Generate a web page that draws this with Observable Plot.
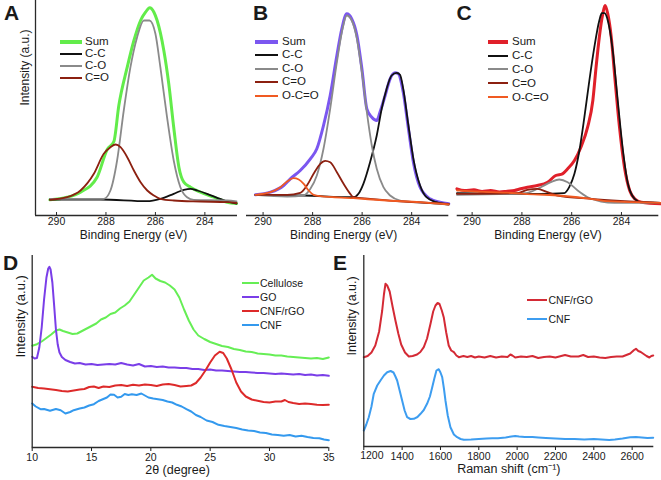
<!DOCTYPE html>
<html>
<head>
<meta charset="utf-8">
<script src="https://cdn.jsdelivr.net/npm/d3@7"></script>
<script src="https://cdn.jsdelivr.net/npm/@observablehq/plot@0.6"></script>
<style>
  body { margin: 0; background: #fff; }
  #fig { position: relative; width: 661px; height: 480px; background: #fff; overflow: hidden; font-family: 'Liberation Sans', Arial, sans-serif; color: #1a1a1a; }
  .abs { position: absolute; }
  .letter { position: absolute; font-weight: bold; font-size: 21px; line-height: 21px; }
  .leg-row { display: flex; align-items: center; white-space: nowrap; }
</style>
</head>
<body>
<div id="fig"></div>
<script>
// ---------------- DATA ----------------
// XPS C1s, panel A (cellulose): [binding energy eV, intensity a.u.]
const aSum = [[290.27,15.7],[289.57,18.3],[289.03,23.3],[288.36,38.3],[287.95,66],[287.68,74],[287.48,110],[287.14,148.3],[286.87,175],[286.6,195],[286.4,203.3],[286.23,207.7],[286.06,203.3],[285.93,195],[285.66,165],[285.46,131.7],[285.26,88.3],[285.05,48.3],[284.85,33.3],[284.58,28.3],[284.18,23.3],[283.64,18.3],[283.1,13.3],[282.72,12]];
const aCC = [[290.27,16],[288.22,16],[286.33,14.3],[285.8,16.7],[285.26,21.7],[284.85,25.7],[284.58,26.7],[284.31,25],[283.91,21.7],[283.5,17.7],[283.1,14],[282.72,12]];
const aCO = [[290.24,16.7],[288.09,16.7],[287.82,25],[287.55,55],[287.28,105],[287.01,148.3],[286.74,178.3],[286.47,195],[286.24,195],[286.0,181.7],[285.8,148.3],[285.53,98.3],[285.26,55],[284.99,28.3],[284.72,18.3],[284.45,15.7],[283.1,15],[282.72,14]];
const aC_O = [[290.27,15.7],[289.57,18.3],[289.03,25],[288.49,41.7],[288.09,61.7],[287.82,68.3],[287.61,71],[287.41,68.3],[287.14,58.3],[286.87,45],[286.6,33.3],[286.33,25],[286.06,20],[285.8,16.7],[285.26,15],[284.18,14],[283.1,13.3],[282.72,12.5]];

// panel B (GO)
const bSum = [[290.31,20.7],[289.7,23.3],[289.17,30],[288.9,36.7],[288.5,45],[288.09,56.7],[287.83,66.7],[287.56,90],[287.29,120],[287.02,160],[286.82,186.7],[286.62,201.7],[286.42,196.7],[286.21,180],[286.01,146.7],[285.81,106.7],[285.61,98.3],[285.41,95],[285.28,103.3],[285.07,120],[284.87,136.7],[284.67,142.7],[284.54,141.7],[284.34,123.3],[284.13,86.7],[283.93,53.3],[283.66,28.3],[283.26,16.7],[282.86,13.3],[282.5,11.7]];
const bCC = [[290.31,20.7],[288.36,20],[286.35,18.3],[286.15,21.7],[285.95,31.7],[285.68,53.3],[285.41,80],[285.21,106.7],[285.01,126.7],[284.81,140],[284.6,142.7],[284.47,140.7],[284.34,126.7],[284.13,90],[283.93,56.7],[283.66,30],[283.4,18.3],[283.0,13.3],[282.5,11]];
const bCO = [[290.31,20.7],[289.03,19],[288.36,20],[288.09,26.7],[287.83,40],[287.56,66.7],[287.29,106.7],[287.02,153.3],[286.82,183.3],[286.62,200],[286.42,195],[286.21,176.7],[286.01,143.3],[285.81,103.3],[285.61,70],[285.41,46.7],[285.14,28.3],[284.87,20],[284.47,15],[283.93,13.3],[283.26,12.3],[282.5,11]];
const bC_O = [[290.31,20.7],[289.03,20.7],[288.5,22.7],[288.23,30],[287.96,41.7],[287.69,51.7],[287.49,54.7],[287.29,53.3],[287.02,43.3],[286.75,31.7],[286.48,21.7],[286.35,18.3],[285.68,16.7],[284.34,14],[282.5,11.7]];
const bOCO = [[290.31,20.7],[289.7,23.3],[289.3,28.3],[289.03,34],[288.77,37.3],[288.56,36],[288.36,31.7],[288.16,25],[287.96,20.7],[287.69,19.3],[286.35,17.3],[285.01,15],[283.66,13.3],[282.5,11]];

// panel C (CNF/rGO)
const cSum = [[290.61,26.7],[290.3,25],[289.93,25.7],[289.6,24],[289.26,25],[288.9,23.5],[288.59,24.3],[288.3,25],[288.05,26.7],[287.78,28.3],[287.38,30],[286.97,33.3],[286.64,40],[286.37,41.7],[286.16,46.7],[285.89,55],[285.63,68.3],[285.36,88.3],[285.15,115],[285.02,148.3],[284.89,178.3],[284.75,201.7],[284.66,210],[284.55,201.7],[284.41,178.3],[284.28,141.7],[284.08,88.3],[283.88,48.3],[283.67,25],[283.47,16.7],[283.2,13.3],[282.4,11.7]];
const cCC = [[290.61,22.3],[287.24,21.7],[286.3,22.3],[286.1,28.3],[285.89,41.7],[285.69,65],[285.49,98.3],[285.29,135],[285.09,168.3],[284.89,195],[284.79,202.3],[284.68,202.3],[284.55,195],[284.35,165],[284.15,115],[283.94,65],[283.74,31.7],[283.47,16.7],[283.2,13.3],[282.4,12.7]];
const cCO = [[290.61,20.7],[287.91,22.3],[287.51,25],[287.24,28.3],[286.84,33.3],[286.5,36],[286.16,33.3],[285.76,25],[285.36,18.3],[284.82,14],[284.28,12.7],[282.4,12.7]];
const cC_O = [[290.61,21.7],[288.18,22.3],[287.78,25.7],[287.38,26.7],[286.97,23.3],[286.57,20],[285.22,16.7],[282.4,12.7]];
const cOCO = [[290.61,25],[289.9,24],[289.26,23.3],[288.6,22.8],[287.91,21.7],[286.57,20],[285.22,16.7],[284.55,14.3],[282.4,12.7]];

const xpsNames = ["Sum", "C-C", "C-O", "C=O", "O-C=O"];
const xpsColors = ["#000", "#111111", "#8a8a8a", "#8c2010", "#f05a22"];
const sumColors = { A: "#62ec4a", B: "#7b57f0", C: "#e0202a" };
const xpsTicks = [290, 288, 286, 284];

// panel D: XRD, [2theta deg, intensity a.u.]
const dCellulose = [[10,101.7],[10.4,103.3],[10.8,106],[11.2,109.5],[11.6,113],[12,117],[12.3,118],[12.6,116.5],[13,115],[13.4,113.5],[13.8,114],[14.2,116.5],[14.6,119],[15,121.5],[15.4,124],[15.8,128],[16.2,130],[16.6,133.5],[17,135],[17.4,139],[17.8,142],[18.2,146],[18.6,153],[19,160],[19.4,167],[19.8,170],[20.1,172.7],[20.4,169],[20.8,166.5],[21.2,165],[21.6,162],[22,158],[22.4,150],[22.8,138],[23.2,127],[23.6,118],[24,112],[24.5,108.5],[25,105.5],[25.5,103.5],[26,101.5],[26.5,100.5],[27,98.5],[27.5,97.5],[28,96],[28.5,95.5],[29,94],[29.5,93.5],[30,93],[30.5,92],[31,92],[31.5,91],[32,90.5],[32.5,90],[33,89.5],[33.5,89],[34,89.5],[34.5,88.5],[35,90]];
const dGO = [[10,90.7],[10.2,89],[10.4,89.5],[10.6,100],[10.8,120],[11,148],[11.2,170],[11.35,179],[11.45,180.7],[11.55,178],[11.7,165],[11.85,142],[12,118],[12.15,103],[12.3,95],[12.5,90.5],[12.8,87.5],[13.2,85.5],[13.6,84],[14,84.5],[14.5,83],[15,83.5],[15.5,82.5],[16,83],[16.5,83.5],[17,83],[17.5,84.5],[18,83],[18.5,82],[19,83.5],[19.5,81],[20,81.5],[20.5,80.5],[21,81],[21.5,80],[22,80],[22.5,79.5],[23,79.5],[23.5,78.5],[24,78.5],[24.5,77.5],[25,78],[25.5,77],[26,77],[26.5,76.5],[27,76],[27.5,75.5],[28,75.5],[28.5,75],[29,74.5],[29.5,74.5],[30,74],[30.5,73.5],[31,74],[31.5,73.5],[32,73],[32.5,73.5],[33,72.5],[33.5,73],[34,72],[34.5,72.5],[35,71.7]];
const dCNFrGO = [[10,60.7],[10.5,59.5],[11,59],[11.5,58.3],[12,57.5],[12.5,56.5],[13,56],[13.5,57],[14,58],[14.4,58.5],[14.8,60.5],[15.2,61],[15.6,59.5],[16,61],[16.5,60.5],[17,62],[17.5,62.5],[18,61.5],[18.5,62.7],[19,62],[19.5,63],[20,62.5],[20.5,61.5],[21,63],[21.5,63.5],[22,62.5],[22.5,61],[23,61.5],[23.4,62],[23.8,64.5],[24.2,70],[24.6,77],[25,85],[25.4,92],[25.8,95.7],[26.1,94.5],[26.4,89],[26.8,78],[27.2,65],[27.6,56],[28,51],[28.5,48],[29,46.7],[29.5,45.5],[30,45],[30.5,46],[31,46],[31.3,47.5],[31.6,45.5],[32,44.5],[32.5,43.5],[33,44],[33.5,43.5],[34,42.7],[34.5,42.5],[35,42.7]];
const dCNF = [[10,44],[10.3,41],[10.7,38.3],[11,38.5],[11.5,36.7],[12,38.5],[12.4,37.3],[12.8,34],[13.2,35.5],[13.5,37.3],[14,39],[14.4,40],[14.8,42],[15.2,43.3],[15.6,46.5],[16,48.5],[16.3,50],[16.6,53],[16.9,52.7],[17.2,50],[17.5,50.7],[17.8,53.5],[18.1,52.5],[18.4,53.3],[18.8,52.5],[19.2,54],[19.5,52],[19.8,50],[20.2,49],[20.6,48.3],[21,47.5],[21.4,46],[21.8,45],[22.2,42.7],[22.6,41],[23,38.3],[23.4,36],[23.8,32.5],[24.2,30.5],[24.7,27],[25.2,25.5],[25.7,22.7],[26.2,21.5],[26.7,20.5],[27.2,19.5],[27.7,18],[28.2,17],[28.7,16.5],[29.2,15],[29.7,14.5],[30.2,13],[30.7,12.5],[31.2,11.7],[31.7,12.5],[32.2,11],[32.7,11.7],[33.2,10.5],[33.7,9.5],[34.2,9.3],[34.6,8],[35,7.3]];
const dNames = ["Cellulose", "GO", "CNF/rGO", "CNF"];
const dColors = ["#66ee55", "#7a3ee8", "#dd2a2a", "#3399ee"];
const dTicks = [10, 15, 20, 25, 30, 35];

// panel E: Raman, [shift cm-1, intensity a.u.]
const eCNFrGO = [[1200,89.3],[1220,90.5],[1240,94],[1260,101],[1280,115],[1296,136],[1305,152],[1313,162.7],[1322,161],[1335,155],[1350,140],[1365,126],[1380,113],[1395,102],[1415,94],[1435,90],[1455,90.5],[1478,92],[1495,94.5],[1513,99.3],[1530,108],[1548,122.7],[1562,135],[1574,141],[1585,143.5],[1595,142.5],[1607,136],[1617,129.3],[1630,114],[1643,101],[1656,96],[1670,94.3],[1683,91],[1696,89.3],[1720,90.5],[1740,89.5],[1760,90.5],[1780,89],[1800,90],[1830,89],[1860,90.5],[1890,89],[1920,90],[1950,89.5],[1965,92],[1975,91],[1990,89],[2020,90],[2050,89.5],[2080,90.5],[2110,88.5],[2140,89.5],[2170,90],[2200,89],[2230,90.5],[2250,91.5],[2280,90],[2320,90],[2345,91.5],[2370,89.5],[2400,90],[2430,89],[2460,88.5],[2490,89.5],[2520,90],[2550,90],[2570,91.5],[2590,93],[2610,96.5],[2620,97.7],[2632,95.5],[2645,94.5],[2660,92.5],[2675,90.5],[2690,89],[2700,90.5],[2710,91]];
const eCNF = [[1200,16],[1213,22],[1226,29.3],[1240,40],[1252,52.7],[1270,61],[1287,66],[1305,71],[1322,74.3],[1340,75.5],[1355,74],[1365,70],[1374,66],[1387,56],[1400,46],[1413,36],[1426,29.3],[1443,27.5],[1461,27.7],[1480,29.5],[1496,32.7],[1513,36.5],[1530,42.7],[1545,50],[1557,59.3],[1568,68],[1579,76],[1591,77.3],[1600,74],[1609,69.3],[1618,58],[1626,46],[1638,31],[1652,19.3],[1670,12],[1687,9.3],[1705,7.5],[1722,6.7],[1760,7],[1800,7.5],[1840,8],[1870,8.3],[1900,8.3],[1940,9],[1970,10],[1990,10.5],[2010,10],[2040,9.5],[2080,9.5],[2110,9],[2150,8.5],[2200,8],[2250,7.5],[2300,7.5],[2350,7],[2400,7.5],[2440,7],[2480,6.5],[2510,7],[2550,8],[2590,9.3],[2620,9.5],[2650,9],[2680,8.5],[2710,8.7]];
const eNames = ["CNF/rGO", "CNF"];
const eColors = ["#d42a35", "#3d9df0"];
const eTicks = [1200, 1400, 1600, 1800, 2000, 2200, 2400, 2600];

// ---------------- DRAWING ----------------
const FONT = "'Liberation Sans', Arial, sans-serif";
const AXIS = "#2a2a2a";
const fig = document.getElementById("fig");

function place(el, left, top) {
  el.style.position = "absolute";
  el.style.left = left + "px";
  el.style.top = top + "px";
  el.style.maxWidth = "none";
  fig.appendChild(el);
}

function baseStyle(fs) {
  return { fontFamily: FONT, fontSize: fs, color: "#1a1a1a", background: "transparent", overflow: "visible" };
}

function xpsPanel(series, opts) {
  const marks = [];
  series.forEach(s => {
    marks.push(Plot.line(s.data, { x: d => d[0], y: d => d[1], stroke: s.color, strokeWidth: s.width, curve: "monotone-x" }));
  });
  marks.push(Plot.ruleY([0], { stroke: AXIS, strokeWidth: 1.3 }));
  // inward tick marks
  marks.push(Plot.ruleX(xpsTicks, { x: d => d, y1: 0, y2: 3, stroke: AXIS, strokeWidth: 1 }));
  if (opts.yLine) {
    marks.push(Plot.ruleX([opts.domain[0]], { stroke: AXIS, strokeWidth: 1.3 }));
    marks.push(Plot.text(["Intensity (a.u.)"], { frameAnchor: "left", rotate: -90, dx: -10, dy: -2.5, fontSize: 12, fill: "#1a1a1a" }));
  }
  marks.push(Plot.text(["Binding Energy (eV)"], { frameAnchor: "bottom", dy: 23, dx: opts.titleDx, fontSize: 12, fill: "#1a1a1a" }));
  return Plot.plot({
    width: opts.width, height: 250,
    marginTop: 0, marginBottom: 35, marginLeft: opts.ml, marginRight: opts.mr,
    x: { domain: opts.domain, ticks: xpsTicks, tickSize: 0, tickPadding: 2, label: null, tickFormat: d => String(d) },
    y: { domain: [0, 215], axis: null },
    style: baseStyle("10.5px"),
    marks
  });
}

function seriesList(sumKey, sumData, comps) {
  const list = [{ name: "Sum", data: sumData, color: sumColors[sumKey], width: 3 }];
  comps.forEach((d, i) => list.push({ name: xpsNames[i + 1], data: d, color: xpsColors[i + 1], width: 1.8 }));
  return list;
}

const sA = seriesList("A", aSum, [aCC, aCO, aC_O]);
const sB = seriesList("B", bSum, [bCC, bCO, bC_O, bOCO]);
const sC = seriesList("C", cSum, [cCC, cCO, cC_O, cOCO]);

place(xpsPanel(sA, { width: 240, ml: 35, mr: 3, domain: [290.85, 282.68], yLine: true, titleDx: -3 }), 0, 0);
place(xpsPanel(sB, { width: 215, ml: 6, mr: 6.7, domain: [290.67, 282.5], yLine: false, titleDx: -4 }), 240, 0);
place(xpsPanel(sC, { width: 210, ml: 5.7, mr: 2.7, domain: [290.6, 282.5], yLine: false, titleDx: -10 }), 451, 0);

// Panel D
const dSeries = [dCellulose, dGO, dCNFrGO, dCNF];
const plotD = Plot.plot({
  width: 340, height: 230,
  marginTop: 5, marginBottom: 33, marginLeft: 31.7, marginRight: 11.7,
  x: { domain: [10, 35], ticks: dTicks, tickSize: 4, tickPadding: 2.5, label: null },
  y: { domain: [0, 192], axis: null },
  style: baseStyle("10.5px"),
  marks: [
    ...dSeries.map((data, i) => Plot.line(data, { x: d => d[0], y: d => d[1], stroke: dColors[i], strokeWidth: 2 })),
    Plot.ruleY([0], { stroke: AXIS, strokeWidth: 1.3 }),
    Plot.ruleX([10], { stroke: AXIS, strokeWidth: 1.3 }),
    Plot.text(["2θ (degree)"], { frameAnchor: "bottom", dy: 26, dx: -3, fontSize: 12.5, fill: "#1a1a1a" }),
    Plot.text(["Intensity (a.u.)"], { frameAnchor: "left", rotate: -90, dx: -11, dy: 6, fontSize: 13, fill: "#1a1a1a" })
  ]
});
place(plotD, 0, 250);

// Panel E
const eSeries = [eCNFrGO, eCNF];
const plotE = Plot.plot({
  width: 321, height: 230,
  marginTop: 5, marginBottom: 34, marginLeft: 23.3, marginRight: 7.7,
  x: { domain: [1200, 2713], ticks: eTicks, tickSize: 4, tickPadding: 2.5, label: null, tickFormat: d => d === 1200 ? "" : String(d) },
  y: { domain: [0, 191], axis: null },
  style: baseStyle("10.5px"),
  marks: [
    ...eSeries.map((data, i) => Plot.line(data, { x: d => d[0], y: d => d[1], stroke: eColors[i], strokeWidth: 2 })),
    Plot.ruleY([0], { stroke: AXIS, strokeWidth: 1.3 }),
    Plot.ruleX([1200], { stroke: AXIS, strokeWidth: 1.3 }),
    Plot.text([eTicks[0]], { x: d => d, frameAnchor: "bottom", dy: 12.5, dx: 8, text: d => String(d), fontSize: 10.5, fill: "#1a1a1a" }),
    Plot.text(["Raman shift (cm⁻¹)"], { frameAnchor: "bottom", dy: 26, fontSize: 12.5, fill: "#1a1a1a" }),
    Plot.text(["Intensity (a.u.)"], { frameAnchor: "left", rotate: -90, dx: -11.5, dy: 4.5, fontSize: 12.5, fill: "#1a1a1a" })
  ]
});
place(plotE, 340, 250);

// Panel letters
[["A", 4, 2], ["B", 253, 2], ["C", 456.5, 2], ["D", 3, 252], ["E", 333, 252]].forEach(([t, x, y]) => {
  const s = document.createElement("div");
  s.className = "letter";
  s.textContent = t;
  s.style.left = x + "px"; s.style.top = y + "px";
  fig.appendChild(s);
});

// Legends (HTML)
function legend(items, o) {
  const box = document.createElement("div");
  box.className = "abs";
  box.style.left = o.left + "px";
  box.style.top = (o.firstCenter - o.rowH / 2) + "px";
  box.style.fontSize = o.fs + "px";
  items.forEach(it => {
    const row = document.createElement("div");
    row.className = "leg-row";
    row.style.height = o.rowH + "px";
    const ln = document.createElement("span");
    ln.style.display = "inline-block";
    ln.style.width = o.lineW + "px";
    ln.style.height = "0";
    ln.style.borderTop = it.w + "px solid " + it.color;
    ln.style.marginRight = o.gap + "px";
    const tx = document.createElement("span");
    tx.textContent = it.name;
    tx.style.lineHeight = "1";
    row.appendChild(ln); row.appendChild(tx);
    box.appendChild(row);
  });
  fig.appendChild(box);
}
const legItems = (list) => list.map(s => ({ name: s.name, color: s.color, w: s.width === 3 ? 4 : 2 }));
legend(legItems(sA), { left: 60, firstCenter: 41.7, rowH: 12, lineW: 22, gap: 3, fs: 11.5 });
legend(legItems(sB), { left: 255, firstCenter: 41.7, rowH: 13.5, lineW: 23, gap: 4, fs: 11.5 });
legend(legItems(sC), { left: 488, firstCenter: 41.7, rowH: 13.9, lineW: 20, gap: 4, fs: 11.5 });
legend(dNames.map((n, i) => ({ name: n, color: dColors[i], w: 2.5 })), { left: 242, firstCenter: 283.3, rowH: 14, lineW: 16.5, gap: 1.5, fs: 10.5 });
legend(eNames.map((n, i) => ({ name: n, color: eColors[i], w: 2.5 })), { left: 527, firstCenter: 300, rowH: 19.3, lineW: 20, gap: 1.5, fs: 10.5 });
</script>
</body>
</html>
